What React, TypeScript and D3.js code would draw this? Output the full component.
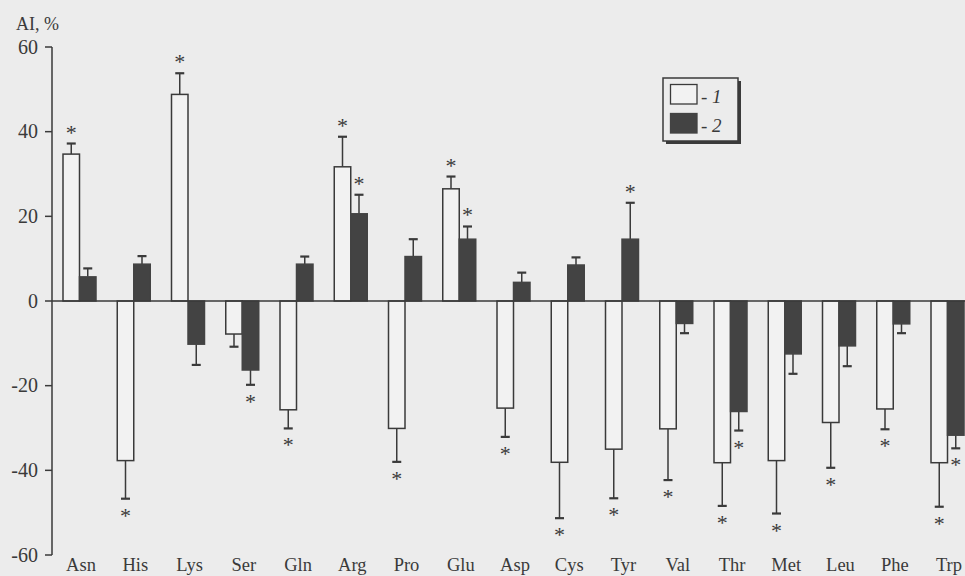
import React from "react";
import * as d3 from "d3";

const categories = ["Asn","His","Lys","Ser","Gln","Arg","Pro","Glu","Asp","Cys","Tyr","Val","Thr","Met","Leu","Phe","Trp"];
const series1 = [34.7, -37.7, 48.8, -7.8, -25.7, 31.7, -30.1, 26.5, -25.3, -38.1, -35.0, -30.2, -38.2, -37.7, -28.7, -25.5, -38.2];
const error1 = [2.5, 9.0, 5.0, 3.0, 4.4, 7.1, 7.9, 2.9, 6.8, 13.2, 11.6, 12.1, 10.2, 12.5, 10.7, 4.8, 10.4];
const signif1 = [1,1,1,0,1,1,1,1,1,1,1,1,1,1,1,1,1];
const series2 = [5.7, 8.7, -10.2, -16.3, 8.7, 20.6, 10.5, 14.6, 4.4, 8.5, 14.6, -5.3, -26.1, -12.5, -10.6, -5.4, -31.7];
const error2 = [2.0, 1.9, 4.9, 3.5, 1.8, 4.5, 4.1, 3.0, 2.3, 1.8, 8.6, 2.3, 4.5, 4.7, 4.8, 2.2, 3.1];
const signif2 = [0,0,0,1,0,1,0,1,0,0,1,0,1,0,0,0,1];
const yTicks = [60, 40, 20, 0, -20, -40, -60];
const legendLabels = ["1", "2"];

const W = 965, H = 576;
const BG = "#ececec";
const INK = "#3a3a3a";
const DARK = "#434343";
const FONT = "Liberation Serif, DejaVu Serif, serif";

export default function App() {
  const y = d3.scaleLinear().domain([-60, 60]).range([555, 47]);
  const x = d3.scalePoint<string>().domain(categories).range([79.5, 947.5]);
  const bw = 16.5;
  const axisX = 52;

  const renderSeries = (vals: number[], errs: number[], sig: number[], k: number) =>
    categories.map((c, i) => {
      const v = vals[i];
      const cx = (x(c) as number) + (k === 0 ? -bw / 2 : bw / 2);
      const y0 = y(0), y1 = y(v);
      const e = v >= 0 ? v + errs[i] : v - errs[i];
      const ye = y(e);
      const starY = v >= 0 ? ye - 15 : ye + 13;
      return (
        <g key={c + k}>
          <line x1={cx} x2={cx} y1={y1} y2={ye} stroke={INK} strokeWidth={1.5} />
          <line x1={cx - 4.5} x2={cx + 4.5} y1={ye} y2={ye} stroke={INK} strokeWidth={2.2} />
          <rect
            x={cx - bw / 2}
            y={Math.min(y0, y1)}
            width={bw}
            height={Math.abs(y1 - y0)}
            fill={k === 0 ? "#f2f2f2" : DARK}
            stroke={k === 0 ? INK : DARK}
            strokeWidth={1.5}
          />
          {sig[i] ? (
            <text x={cx} y={starY + 11} textAnchor="middle" fontSize={22} fontFamily={FONT} fill={INK}>*</text>
          ) : null}
        </g>
      );
    });

  return (
    <svg width={W} height={H} style={{ position: "absolute", left: 0, top: 0, background: BG }}>
      <rect x={0} y={0} width={W} height={H} fill={BG} />
      <line x1={axisX} x2={axisX} y1={y(60)} y2={y(-60)} stroke={INK} strokeWidth={1.5} />
      {yTicks.map((t) => (
        <g key={t}>
          <line x1={axisX - 7} x2={axisX} y1={y(t)} y2={y(t)} stroke={INK} strokeWidth={1.5} />
          <text x={38} y={y(t) + 6.5} textAnchor="end" fontSize={20} fontFamily={FONT} fill={INK}>{t}</text>
        </g>
      ))}
      <text x={16} y={30} fontSize={18} fontFamily={FONT} fill={INK}>AI, %</text>
      {renderSeries(series1, error1, signif1, 0)}
      {renderSeries(series2, error2, signif2, 1)}
      <line x1={axisX} x2={W} y1={y(0)} y2={y(0)} stroke={INK} strokeWidth={1.5} />
      {categories.map((c) => (
        <text key={c} x={(x(c) as number) + 1.5} y={571} textAnchor="middle" fontSize={18.5} fontFamily={FONT} fill={INK}>{c}</text>
      ))}
      <g>
        <rect x={666} y={81} width={75} height={63} fill={INK} />
        <rect x={663} y={78} width={75} height={63} fill={BG} stroke={INK} strokeWidth={1.5} />
        {legendLabels.map((l, i) => (
          <g key={l}>
            <rect x={670.5} y={84.5 + i * 29} width={26.5} height={19.5}
              fill={i === 0 ? "#f2f2f2" : DARK} stroke={i === 0 ? INK : DARK} strokeWidth={1.3} />
            <text x={701} y={103 + i * 29} fontSize={19} fontFamily={FONT} fill={INK}>
              - <tspan fontStyle="italic">{l}</tspan>
            </text>
          </g>
        ))}
      </g>
    </svg>
  );
}
